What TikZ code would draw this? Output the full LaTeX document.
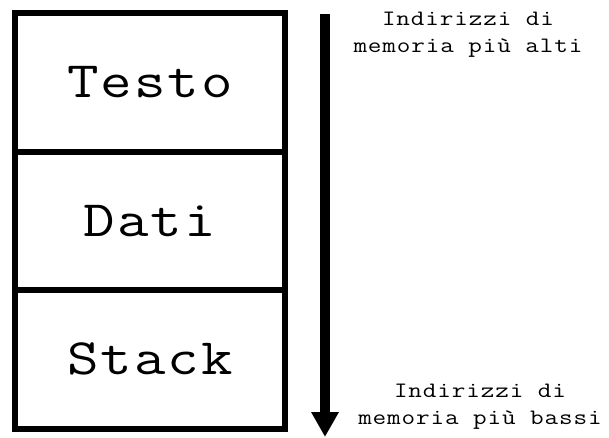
\documentclass[tikz,border=0pt]{standalone}
\usepackage{fontspec}
\usetikzlibrary{arrows.meta}
\newfontfamily\memfont{Latin Modern Mono}[FakeStretch=1.2, LetterSpace=4]
\tikzset{
  segmento/.style={draw, line width=6pt, minimum width=270pt, minimum height=138.5pt,
    inner sep=0pt, outer sep=0pt, font=\memfont\fontsize{51}{60}\selectfont},
  indirizzo/.style={align=center, font=\memfont\fontsize{22}{27}\selectfont}
}
\begin{document}
\begin{tikzpicture}[x=1pt,y=1pt]
\useasboundingbox (0,0) rectangle (609,-437);
% i tre segmenti della memoria
\foreach \nome/\testo/\pos in {testo/Testo/1, dati/Dati/2, stack/Stack/3} {
  \node[segmento] (\nome) at (150,{-13-138.5*(\pos-0.5)}) {\testo};
}
% freccia degli indirizzi
\coordinate (alto) at (325,-14);
\coordinate (basso) at (325,-437);
\draw[line width=9.5pt, -{Triangle[width=26pt,length=25pt]}] (alto) -- (basso);
\node[indirizzo] (alti) at (468,-34.4) {Indirizzi di\\memoria più alti};
\node[indirizzo] (bassi) at (480,-407) {Indirizzi di\\memoria più bassi};
\end{tikzpicture}
\end{document}
